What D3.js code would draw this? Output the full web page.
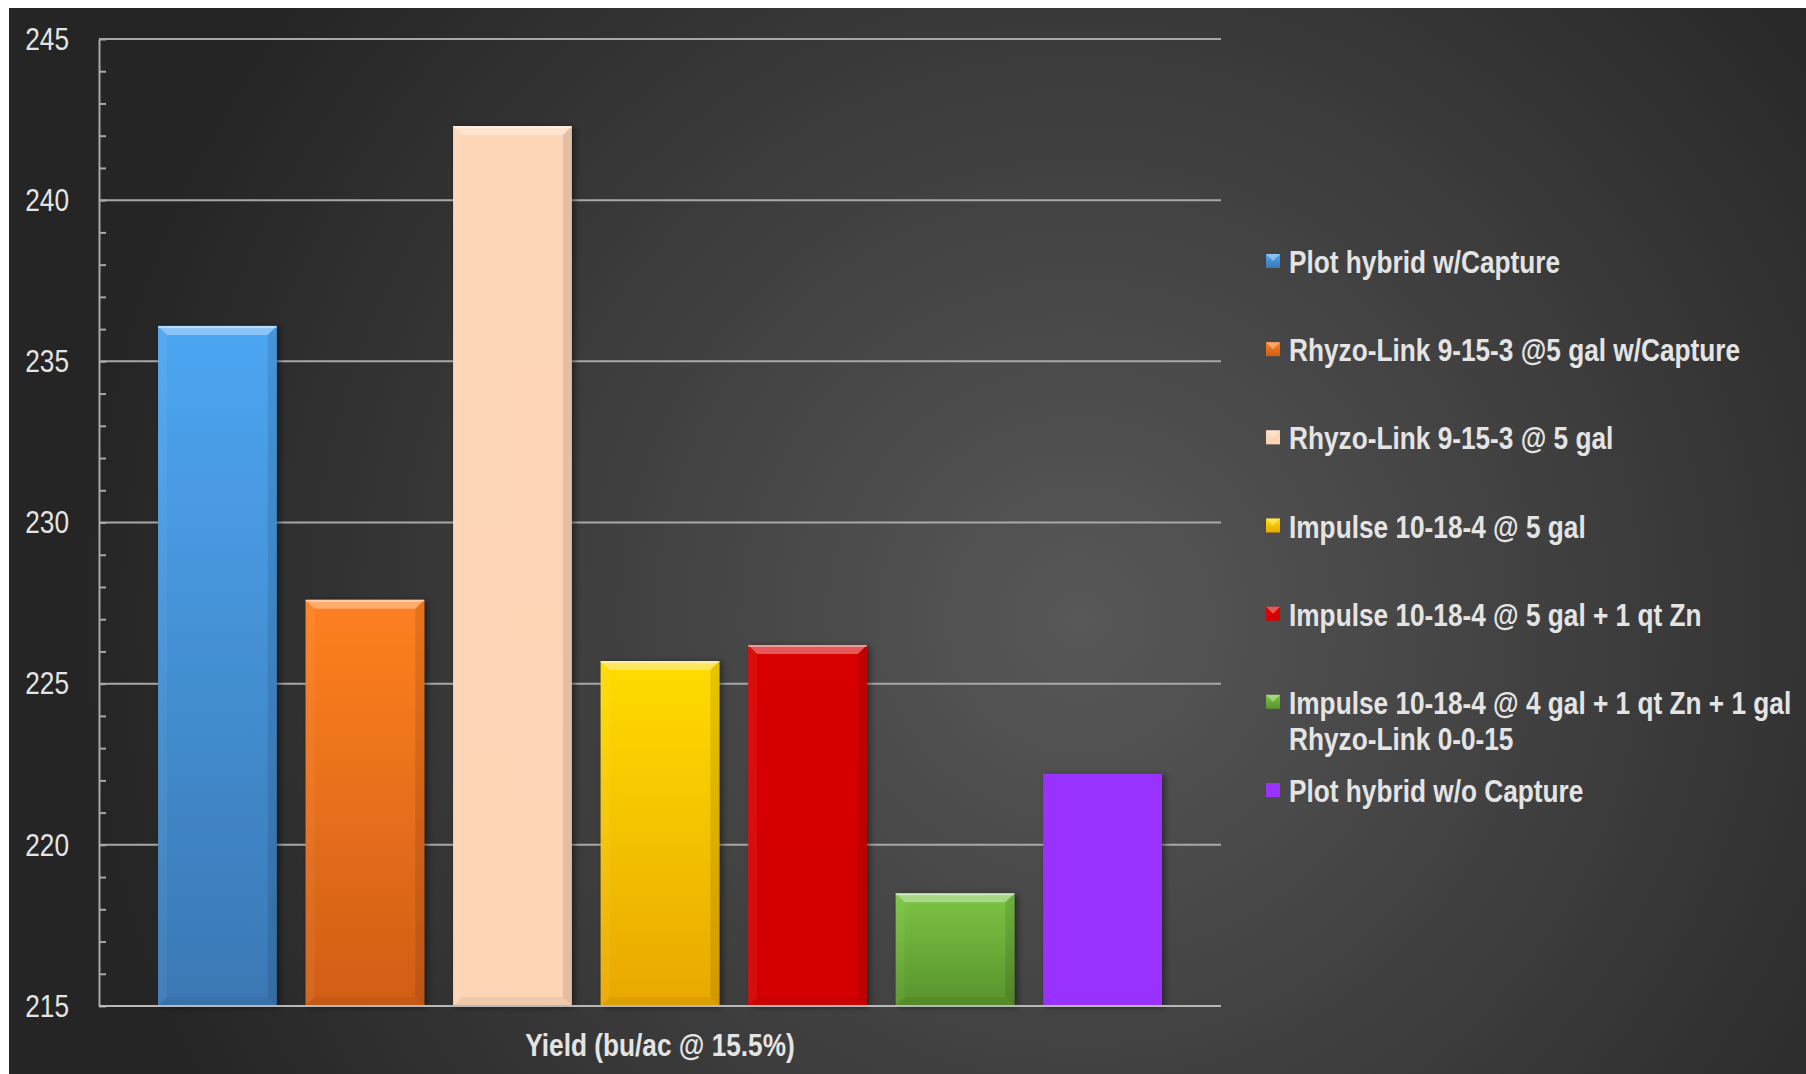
<!DOCTYPE html>
<html>
<head>
<meta charset="utf-8">
<script src="https://cdn.jsdelivr.net/npm/d3@7"></script>
<style>
  html, body { margin: 0; padding: 0; background: #ffffff; }
  svg { display: block; }
</style>
</head>
<body>
<div id="chart"></div>
<script>
// data
var series = [
  "Plot hybrid w/Capture",
  "Rhyzo-Link 9-15-3 @5 gal w/Capture",
  "Rhyzo-Link 9-15-3 @ 5 gal",
  "Impulse 10-18-4 @ 5 gal",
  "Impulse 10-18-4 @ 5 gal + 1 qt Zn",
  "Impulse 10-18-4 @ 4 gal + 1 qt Zn + 1 gal Rhyzo-Link 0-0-15",
  "Plot hybrid w/o Capture"
];
var legendLines = [
  ["Plot hybrid w/Capture"],
  ["Rhyzo-Link 9-15-3 @5 gal w/Capture"],
  ["Rhyzo-Link 9-15-3 @ 5 gal"],
  ["Impulse 10-18-4 @ 5 gal"],
  ["Impulse 10-18-4 @ 5 gal + 1 qt Zn"],
  ["Impulse 10-18-4 @ 4 gal + 1 qt Zn + 1 gal", "Rhyzo-Link 0-0-15"],
  ["Plot hybrid w/o Capture"]
];
var values = [236.1, 227.6, 242.3, 225.7, 226.2, 218.5, 222.2];
var yTicks = [215, 220, 225, 230, 235, 240, 245];
var yMinorTicks = d3.range(215, 246, 1);
var category = "Yield (bu/ac @ 15.5%)";

// colours: top, bottom, bevel on/off
var topColors    = ["#4da6f2", "#ff8020", "#fdd6b8", "#ffdc05", "#d80000", "#7cc544", "#9933ff"];
var bottomColors = ["#3a78b4", "#d05e16", "#fdd4b4", "#e9a800", "#d40000", "#58922c", "#9933ff"];
var bevel        = [true, true, true, true, true, true, false];

var W = 1806, H = 1074;
var margin = {left: 99, right: W - 1221, top: 39, bottom: H - 1006};
// no narrow font installed: squeeze Liberation Sans horizontally
var font = "'Liberation Sans Narrow', 'Arial Narrow', 'Liberation Sans', Arial, sans-serif";
var squeeze = 0.82;

var svg = d3.select("#chart").append("svg")
  .attr("width", W)
  .attr("height", H);

var defs = svg.append("defs");

var bg = defs.append("radialGradient")
  .attr("id", "bg")
  .attr("gradientUnits", "userSpaceOnUse")
  .attr("cx", 1080).attr("cy", 620).attr("r", 1000);
bg.append("stop").attr("offset", "0%").attr("stop-color", "#585858");
bg.append("stop").attr("offset", "55%").attr("stop-color", "#3c3c3c");
bg.append("stop").attr("offset", "100%").attr("stop-color", "#252525");

var shadow = defs.append("filter")
  .attr("id", "shadow")
  .attr("x", "-20%").attr("y", "-20%")
  .attr("width", "140%").attr("height", "140%");
shadow.append("feDropShadow")
  .attr("dx", 3).attr("dy", 1)
  .attr("stdDeviation", 3)
  .attr("flood-color", "#000")
  .attr("flood-opacity", 0.45);

series.forEach(function(s, i) {
  var g = defs.append("linearGradient")
    .attr("id", "bar" + i)
    .attr("x1", 0).attr("y1", 0).attr("x2", 0).attr("y2", 1);
  g.append("stop").attr("offset", "0%").attr("stop-color", topColors[i]);
  g.append("stop").attr("offset", "100%").attr("stop-color", bottomColors[i]);
});

// panel background (white frame on top and left)
svg.append("rect")
  .attr("x", 9).attr("y", 8)
  .attr("width", W - 9).attr("height", H - 8)
  .attr("fill", "url(#bg)");

var x = d3.scaleBand()
  .domain(series)
  .range([margin.left, W - margin.right])
  .paddingInner(0.195)
  .paddingOuter(0.40);

var y = d3.scaleLinear()
  .domain([215, 245])
  .range([H - margin.bottom, margin.top]);

// gridlines
svg.append("g")
  .selectAll("line")
  .data(yTicks.slice(1))
  .enter().append("line")
  .attr("x1", margin.left)
  .attr("x2", W - margin.right)
  .attr("y1", function(d) { return y(d); })
  .attr("y2", function(d) { return y(d); })
  .attr("stroke", "#a8a8a8")
  .attr("stroke-width", 2);

// y axis with minor ticks inside
var yAxisMinor = svg.append("g")
  .attr("transform", "translate(" + margin.left + ",0)")
  .call(d3.axisRight(y).tickValues(yMinorTicks).tickSize(7).tickFormat(""));
yAxisMinor.select(".domain").remove();
yAxisMinor.selectAll("line").attr("stroke", "#a8a8a8").attr("stroke-width", 2);

var yAxis = svg.append("g")
  .attr("transform", "translate(" + margin.left + ",0)")
  .call(d3.axisLeft(y).tickValues(yTicks).tickSize(0).tickFormat(d3.format("d")));
yAxis.select(".domain").attr("stroke", "#a8a8a8").attr("stroke-width", 2);
yAxis.selectAll("text")
  .attr("x", -30 / squeeze)
  .attr("transform", "scale(" + squeeze + ",1)")
  .attr("fill", "#e4e4e4")
  .style("font-family", font)
  .style("font-size", "32px");

// bars
var bars = svg.append("g")
  .selectAll("g")
  .data(series)
  .enter().append("g")
  .attr("filter", "url(#shadow)");

bars.append("rect")
  .attr("x", function(d) { return x(d); })
  .attr("y", function(d, i) { return y(values[i]); })
  .attr("width", x.bandwidth())
  .attr("height", function(d, i) { return y(215) - y(values[i]); })
  .attr("fill", function(d, i) { return "url(#bar" + i + ")"; });

var b = 9;
function bevelPoly(side) {
  return function(d, i) {
    var x0 = x(d), x1 = x(d) + x.bandwidth();
    var y0 = y(values[i]), y1 = y(215);
    var p;
    if (side === "top") p = [[x0, y0], [x1, y0], [x1 - b, y0 + b], [x0 + b, y0 + b]];
    if (side === "left") p = [[x0, y0], [x0 + b, y0 + b], [x0 + b, y1 - b], [x0, y1]];
    if (side === "right") p = [[x1, y0], [x1 - b, y0 + b], [x1 - b, y1 - b], [x1, y1]];
    if (side === "bottom") p = [[x0, y1], [x0 + b, y1 - b], [x1 - b, y1 - b], [x1, y1]];
    return p.map(function(q) { return q.join(","); }).join(" ");
  };
}

var beveled = bars.filter(function(d, i) { return bevel[i]; });
beveled.append("polygon").attr("points", bevelPoly("top"))
  .attr("fill", "#ffffff").attr("fill-opacity", 0.35);
beveled.append("polygon").attr("points", bevelPoly("left"))
  .attr("fill", "#ffffff").attr("fill-opacity", 0.05);
beveled.append("polygon").attr("points", bevelPoly("right"))
  .attr("fill", "#000000").attr("fill-opacity", 0.1);
beveled.append("polygon").attr("points", bevelPoly("bottom"))
  .attr("fill", "#000000").attr("fill-opacity", 0.05);
beveled.append("line")
  .attr("x1", function(d) { return x(d); })
  .attr("x2", function(d) { return x(d) + x.bandwidth(); })
  .attr("y1", function(d, i) { return y(values[i]) + 1; })
  .attr("y2", function(d, i) { return y(values[i]) + 1; })
  .attr("stroke", "#ffffff").attr("stroke-opacity", 0.4).attr("stroke-width", 2);

// x axis line
svg.append("line")
  .attr("x1", margin.left)
  .attr("x2", W - margin.right)
  .attr("y1", y(215))
  .attr("y2", y(215))
  .attr("stroke", "#b8b8b8")
  .attr("stroke-width", 2);

// category label
svg.append("g")
  .attr("transform", "translate(" + ((margin.left + W - margin.right) / 2) + "," + (y(215) + 50) + ") scale(" + squeeze + ",1)")
  .append("text")
  .attr("text-anchor", "middle")
  .attr("fill", "#e4e4e4")
  .style("font-family", font)
  .style("font-weight", "bold")
  .style("font-size", "32px")
  .text(category);

// legend
var legend = svg.append("g");
var legendY = d3.scalePoint()
  .domain(series)
  .range([261, 790]);

var items = legend.selectAll("g")
  .data(series)
  .enter().append("g")
  .attr("transform", function(d) { return "translate(1266," + legendY(d) + ")"; });

items.append("rect")
  .attr("x", 0).attr("y", -7)
  .attr("width", 14).attr("height", 14)
  .attr("fill", function(d, i) { return "url(#bar" + i + ")"; });
items.filter(function(d, i) { return bevel[i]; })
  .append("polygon")
  .attr("points", "0,-7 14,-7 7,0")
  .attr("fill", "#ffffff").attr("fill-opacity", 0.35);

items.each(function(d, i) {
  var t = d3.select(this).append("g")
    .attr("transform", "translate(23,12) scale(" + squeeze + ",1)")
    .append("text")
    .attr("fill", "#e4e4e4")
    .style("font-family", font)
    .style("font-weight", "bold")
    .style("font-size", "32px");
  legendLines[i].forEach(function(line, j) {
    t.append("tspan")
      .attr("x", 0)
      .attr("dy", j === 0 ? 0 : 36)
      .text(line);
  });
});
</script>
</body>
</html>
